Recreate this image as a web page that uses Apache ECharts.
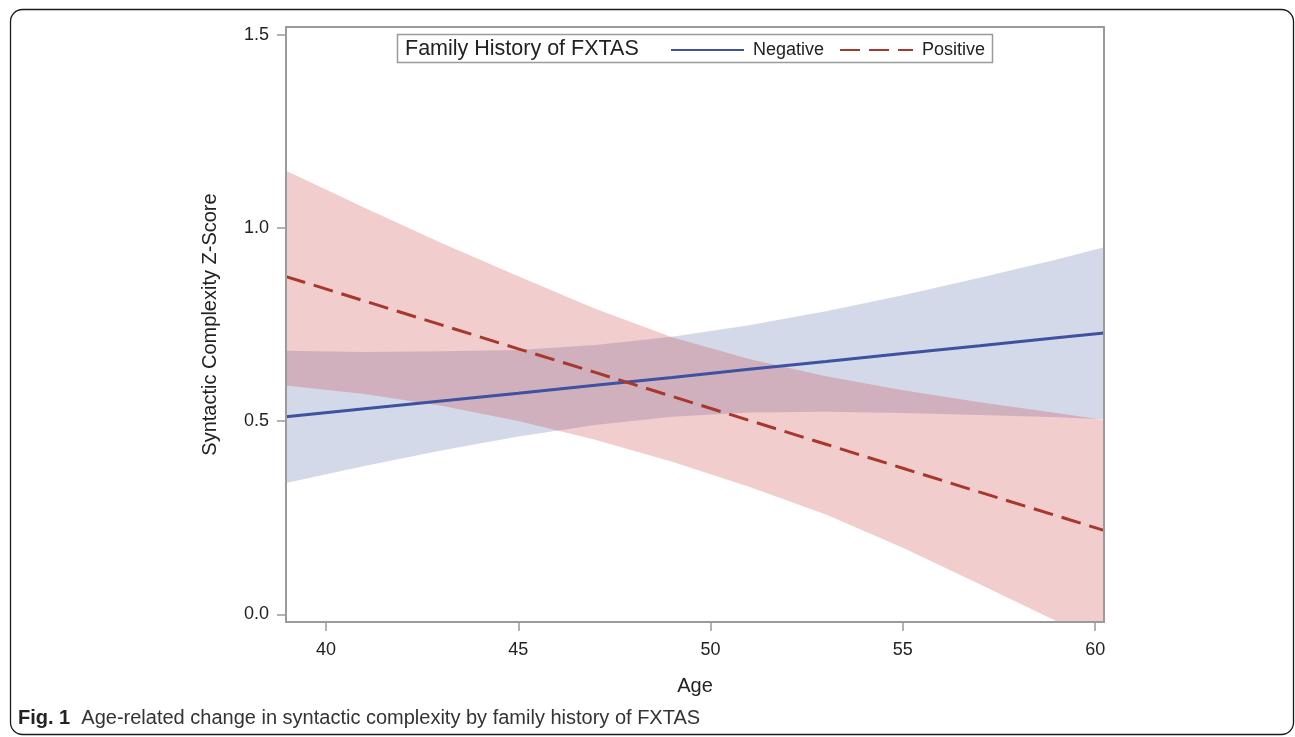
<!DOCTYPE html>
<html>
<head>
<meta charset="utf-8">
<script src="https://cdn.jsdelivr.net/npm/echarts@6/dist/echarts.min.js"></script>
<style>
  html, body { margin: 0; padding: 0; background: #fff; }
  #chart { width: 1295px; height: 737px; }
</style>
</head>
<body>
<div id="chart"></div>
<script>
let ages = [38.96, 41, 43, 45, 47, 49, 51, 53, 55, 57, 59, 60.23];

// Negative family history (blue)
let negFit   = [0.511, 0.532, 0.552, 0.572, 0.593, 0.613, 0.634, 0.654, 0.675, 0.695, 0.716, 0.728];
let negUpper = [0.682, 0.679, 0.681, 0.684, 0.697, 0.718, 0.748, 0.784, 0.826, 0.871, 0.918, 0.950];
let negLower = [0.340, 0.384, 0.424, 0.460, 0.490, 0.511, 0.522, 0.524, 0.521, 0.516, 0.510, 0.505];

// Positive family history (red)
let posFit   = [0.874, 0.811, 0.749, 0.687, 0.626, 0.564, 0.502, 0.440, 0.378, 0.316, 0.255, 0.217];
let posUpper = [1.148, 1.052, 0.961, 0.875, 0.791, 0.717, 0.661, 0.616, 0.580, 0.549, 0.521, 0.503];
let posLower = [0.592, 0.570, 0.540, 0.500, 0.452, 0.395, 0.330, 0.258, 0.172, 0.078, -0.018, -0.076];

let xTicks = [40, 45, 50, 55, 60];
let yTicks = [0, 0.5, 1.0, 1.5];

let FONT = '"Liberation Sans", Arial, sans-serif';
let blue = '#3f51a1';
let red = '#a8372c';
let axisGray = '#9a9a9a';

function pairs(vals) {
  return ages.map(function (a, i) { return [a, vals[i]]; });
}

// band polygon: upper edge left->right, lower edge right->left, placed by the axes
function bandSeries(name, upper, lower, fill, z) {
  return {
    name: name,
    type: 'custom',
    silent: true,
    z: z,
    data: [[ages[0], lower[0]]],
    renderItem: function (params, api) {
      let pts = [];
      for (let i = 0; i < ages.length; i++) pts.push(api.coord([ages[i], upper[i]]));
      for (let i = ages.length - 1; i >= 0; i--) pts.push(api.coord([ages[i], lower[i]]));
      let cs = params.coordSys;
      return {
        type: 'polygon',
        shape: { points: pts },
        style: { fill: fill, stroke: null },
        clipPath: { type: 'rect', shape: { x: cs.x, y: cs.y, width: cs.width, height: cs.height } }
      };
    }
  };
}

let option = {
  animation: false,
  grid: { left: 286, right: 191, top: 27, bottom: 115 },
  legend: {
    data: ['Negative', 'Positive'],
    left: 670,
    top: 41,
    padding: 0,
    z: 10,
    itemWidth: 73,
    itemHeight: 14,
    itemGap: 15,
    itemStyle: { opacity: 0 },
    textStyle: { fontFamily: FONT, fontSize: 18, color: '#222', padding: [0, 0, 0, 4] }
  },
  xAxis: [{
    type: 'value',
    min: 38.96,
    max: 60.23,
    z: 10,
    name: 'Age',
    nameLocation: 'middle',
    nameGap: 54,
    nameTextStyle: { fontFamily: FONT, fontSize: 20, color: '#222' },
    axisLine: { show: true, onZero: false, lineStyle: { color: axisGray, width: 2 } },
    axisTick: { show: true, length: 9, customValues: xTicks, lineStyle: { color: axisGray, width: 1.5 } },
    axisLabel: { customValues: xTicks, margin: 19, fontFamily: FONT, fontSize: 18, color: '#222' },
    splitLine: { show: false }
  }, {
    type: 'value',
    position: 'top',
    min: 38.96,
    max: 60.23,
    z: 10,
    axisLine: { show: true, onZero: false, lineStyle: { color: axisGray, width: 2 } },
    axisTick: { show: false },
    axisLabel: { show: false },
    splitLine: { show: false }
  }],
  yAxis: [{
    type: 'value',
    min: -0.02,
    max: 1.52,
    z: 10,
    name: 'Syntactic Complexity Z-Score',
    nameLocation: 'middle',
    nameGap: 66,
    nameTextStyle: { fontFamily: FONT, fontSize: 20, color: '#222' },
    axisLine: { show: true, onZero: false, lineStyle: { color: axisGray, width: 2 } },
    axisTick: { show: true, length: 9, customValues: yTicks, lineStyle: { color: axisGray, width: 1.5 } },
    axisLabel: {
      customValues: yTicks, margin: 17, fontFamily: FONT, fontSize: 18, color: '#222',
      formatter: function (v) { return v.toFixed(1); }
    },
    splitLine: { show: false }
  }, {
    type: 'value',
    position: 'right',
    min: -0.02,
    max: 1.52,
    z: 10,
    axisLine: { show: true, onZero: false, lineStyle: { color: axisGray, width: 2 } },
    axisTick: { show: false },
    axisLabel: { show: false },
    splitLine: { show: false }
  }],
  series: [
    bandSeries('negBand', negUpper, negLower, 'rgba(79,103,163,0.25)', 1),
    bandSeries('posBand', posUpper, posLower, 'rgba(198,56,60,0.25)', 1),
    {
      name: 'Negative', type: 'line', data: pairs(negFit), symbol: 'none',
      itemStyle: { color: blue },
      lineStyle: { color: blue, width: 3 }, z: 2
    },
    {
      name: 'Positive', type: 'line', data: pairs(posFit), symbol: 'none',
      itemStyle: { color: red },
      lineStyle: { color: red, width: 3, type: [20, 9] }, z: 2
    }
  ],
  graphic: [
    // outer figure frame
    {
      type: 'rect', z: 0,
      shape: { x: 10.5, y: 9.5, width: 1283, height: 725, r: 12 },
      style: { fill: null, stroke: '#1a1a1a', lineWidth: 1.3 }
    },
    // legend box
    {
      type: 'rect', z: 3,
      shape: { x: 397.5, y: 34.5, width: 595, height: 28 },
      style: { fill: '#fff', stroke: '#9a9a9a', lineWidth: 1.5 }
    },
    {
      type: 'text', z: 3, left: 405, top: 38,
      style: { text: 'Family History of FXTAS', fontFamily: FONT, fontSize: 21.5, fill: '#222' }
    },
    // caption
    {
      type: 'text', z: 3, left: 18, top: 708,
      style: {
        text: '{b|Fig. 1}  Age-related change in syntactic complexity by family history of FXTAS',
        fontFamily: FONT, fontSize: 20, fill: '#333',
        rich: {
          b: { fontFamily: FONT, fontSize: 20, fontWeight: 'bold', fill: '#222' }
        }
      }
    }
  ]
};

let chart = echarts.init(document.getElementById('chart'), null, { renderer: 'canvas' });
chart.setOption(option);
</script>
</body>
</html>
